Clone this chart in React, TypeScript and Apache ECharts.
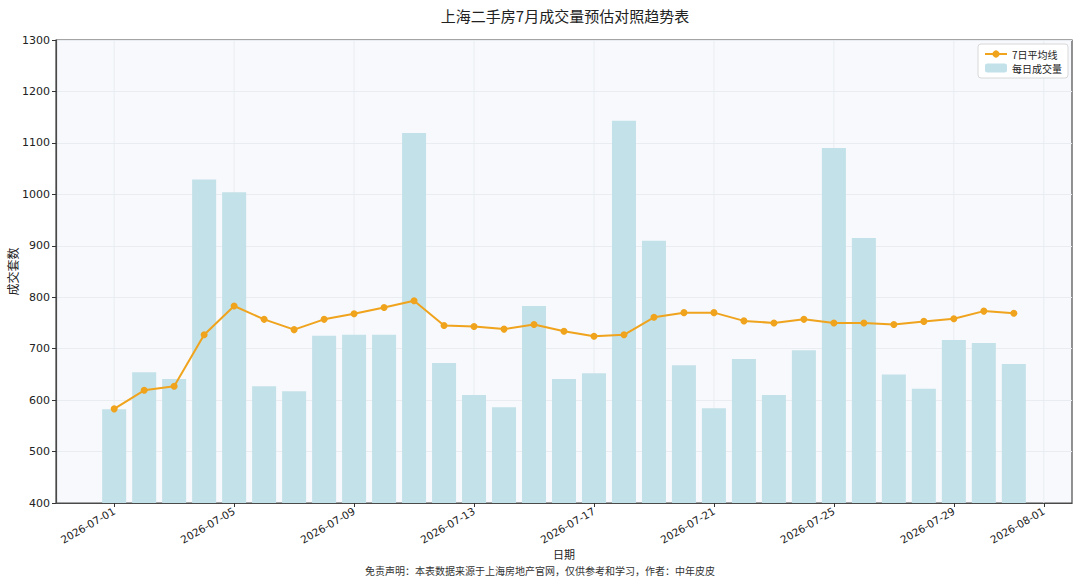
import React, { useEffect, useRef } from "react";
import * as echarts from "echarts";

const dates = [
  "2026-07-01", "2026-07-02", "2026-07-03", "2026-07-04", "2026-07-05", "2026-07-06", "2026-07-07",
  "2026-07-08", "2026-07-09", "2026-07-10", "2026-07-11", "2026-07-12", "2026-07-13", "2026-07-14",
  "2026-07-15", "2026-07-16", "2026-07-17", "2026-07-18", "2026-07-19", "2026-07-20", "2026-07-21",
  "2026-07-22", "2026-07-23", "2026-07-24", "2026-07-25", "2026-07-26", "2026-07-27", "2026-07-28",
  "2026-07-29", "2026-07-30", "2026-07-31",
];

const dailyVolume = [
  582, 654, 641, 1029, 1004, 627, 617, 725, 727, 727, 1119, 672, 610, 586, 783, 641,
  652, 1143, 910, 668, 584, 680, 610, 697, 1090, 915, 650, 622, 717, 711, 670,
];

const avg7 = [
  583, 619, 627, 727, 783, 757, 737, 757, 768, 780, 793, 745, 743, 738, 747, 734,
  724, 727, 761, 770, 770, 754, 750, 757, 750, 750, 747, 753, 758, 773, 769,
];

const tickDays = [0, 4, 8, 12, 16, 20, 24, 28, 31];
const tickLabels = [
  "2026-07-01", "2026-07-05", "2026-07-09", "2026-07-13", "2026-07-17",
  "2026-07-21", "2026-07-25", "2026-07-29", "2026-08-01",
];

const yTicks = [400, 500, 600, 700, 800, 900, 1000, 1100, 1200, 1300];

const TITLE = "上海二手房7月成交量预估对照趋势表";
const FOOTER = "免责声明：本表数据来源于上海房地产官网，仅供参考和学习，作者：中年皮皮";

export default function App() {
  const ref = useRef<HTMLDivElement>(null);

  useEffect(() => {
    if (!ref.current) return;
    const chart = echarts.init(ref.current, undefined, { renderer: "svg" });
    const cjk = "'Noto Sans CJK SC', sans-serif";
    const latin = "'DejaVu Sans', sans-serif";

    chart.setOption({
      animation: false,
      backgroundColor: "#ffffff",
      title: {
        text: TITLE,
        left: 560,
        textAlign: "center",
        top: 3,
        textStyle: { fontSize: 15, fontWeight: "normal", color: "#222", fontFamily: cjk },
      },
      legend: {
        orient: "vertical",
        right: 12,
        top: 44,
        backgroundColor: "#ffffff",
        borderColor: "#d8d8d8",
        borderWidth: 1,
        borderRadius: 3,
        padding: [5, 6, 5, 6],
        itemGap: 4,
        itemWidth: 22,
        itemHeight: 9,
        textStyle: { fontSize: 10, color: "#222", fontFamily: cjk },
        data: [
          { name: "7日平均线" },
          { name: "每日成交量", itemStyle: { color: "#c3e1e9" } },
        ],
      },
      grid: {
        left: 56,
        right: 8,
        top: 40,
        bottom: 78,
        containLabel: false,
        outerBoundsMode: "none",
        show: true,
        backgroundColor: "#f7f9fc",
        borderColor: "#4a4a4a",
        borderWidth: 1.2,
      },
      xAxis: {
        type: "value",
        min: -1.94,
        max: 31.94,
        name: "日期",
        nameLocation: "middle",
        nameGap: 45,
        nameMoveOverlap: false,
        nameTextStyle: { fontSize: 11, color: "#222", fontFamily: cjk, lineHeight: 11 },
        axisLine: { show: true, onZero: false, lineStyle: { color: "#4a4a4a", width: 1.2 } },
        axisTick: { show: true, customValues: tickDays, length: 4, lineStyle: { color: "#333" } },
        axisLabel: {
          customValues: tickDays,
          rotate: 30,
          fontSize: 10.5,
          color: "#222",
          fontFamily: latin,
          margin: 7,
          formatter: (v: number) => {
            const i = tickDays.indexOf(Math.round(v));
            return i >= 0 ? tickLabels[i] : "";
          },
        },
        splitLine: { show: false },
      },
      yAxis: {
        type: "value",
        min: 400,
        max: 1300,
        interval: 100,
        name: "成交套数",
        nameLocation: "middle",
        nameGap: 38,
        nameMoveOverlap: false,
        nameTextStyle: { fontSize: 12, color: "#222", fontFamily: cjk },
        axisLine: { show: true, onZero: false, lineStyle: { color: "#4a4a4a", width: 1.2 } },
        axisTick: { show: true, length: 4, lineStyle: { color: "#333" } },
        axisLabel: {
          fontSize: 11,
          color: "#222",
          fontFamily: latin,
          margin: 6,
          formatter: (v: number) => (yTicks.includes(v) ? String(v) : ""),
        },
        splitLine: { show: true, lineStyle: { color: "#e9edf1", width: 1 } },
      },
      graphic: [
        {
          type: "text",
          left: 555 - 190,
          top: 565,
          style: {
            text: FOOTER,
            fontSize: 10,
            lineHeight: 10,
            fill: "#333",
            fontFamily: cjk,
          },
        },
      ],
      series: [
        {
          name: "grid-x",
          type: "custom",
          z: 1,
          silent: true,
          data: tickDays.map((d) => [d]),
          renderItem: (params: any, api: any) => {
            const x = api.coord([api.value(0), 400])[0];
            const cs = params.coordSys;
            return {
              type: "line",
              shape: { x1: x, y1: cs.y, x2: x, y2: cs.y + cs.height },
              style: { stroke: "#e9edf1", lineWidth: 1 },
            };
          },
        },
        {
          name: "每日成交量",
          type: "bar",
          barWidth: 24,
          z: 2,
          itemStyle: { color: "#c3e1e9" },
          data: dates.map((_, i) => [i, dailyVolume[i]]),
        },
        {
          name: "7日平均线",
          type: "line",
          z: 3,
          symbol: "circle",
          symbolSize: 7,
          lineStyle: { color: "#f0a31c", width: 2 },
          itemStyle: { color: "#f0a31c", borderWidth: 0 },
          data: dates.map((_, i) => [i, avg7[i]]),
        },
      ],
    });

    return () => chart.dispose();
  }, []);

  return (
    <div
      ref={ref}
      style={{ position: "fixed", left: 0, top: 0, width: 1080, height: 581 }}
    />
  );
}
